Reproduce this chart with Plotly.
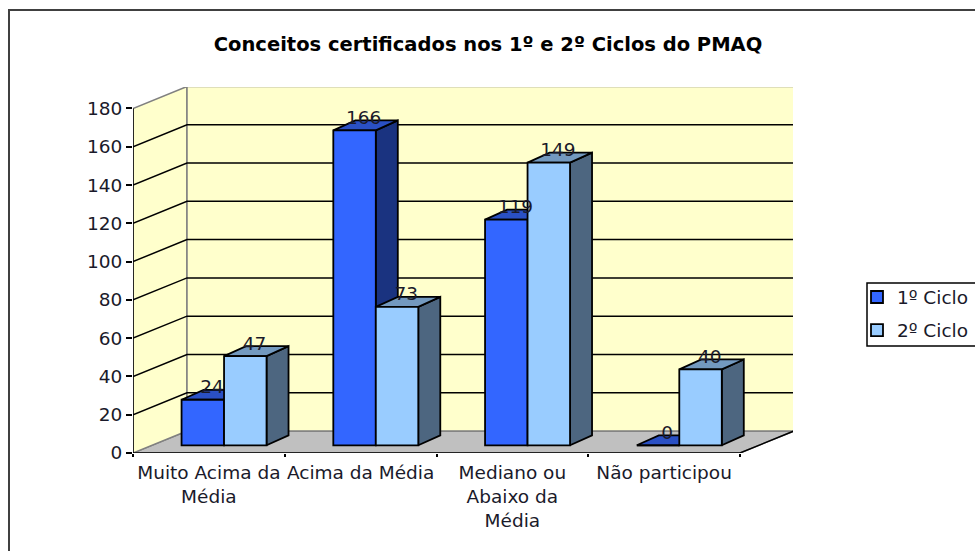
import plotly.graph_objects as go

categories = ["Muito Acima da<br>Média", "Acima da Média", "Mediano ou<br>Abaixo da<br>Média", "Não participou"]
ciclo1 = [24, 166, 119, 0]
ciclo2 = [47, 73, 149, 40]
ticks = [0, 20, 40, 60, 80, 100, 120, 140, 160, 180]
title = "Conceitos certificados nos 1º e 2º Ciclos do PMAQ"

FONT = "DejaVu Sans"
FS = 18.5
TXT = "#1a1a2a"
L, R, T, B = 133, 793, 87, 453
W, H = 975, 551
UNIT_X = 151.75
UNIT_Y = 1.914
BAR_UNIT_Y = 1.897
XMAX = (R - L) / UNIT_X
YMAX = (B - T) / UNIT_Y
BAR_YMAX = (B - T) / BAR_UNIT_Y
WALL_DX, WALL_DY = 54 / UNIT_X, 22 / UNIT_Y
BAR_W = 0.28
GROUP_DX, BASE = 0.1, 4.06
DEPTH_X, DEPTH_Y = 0.145, 5.25
EDGE = 1.8
n = len(categories)


def px(x):
    return (x - L) / (R - L)


def py(y):
    return (B - y) / (B - T)


def poly(x, y, fill, line="#808080", width=1.5, axes=("x", "y")):
    return go.Scatter(x=x, y=y, mode="lines", fill="toself", fillcolor=fill, cliponaxis=False,
                      line=dict(color=line, width=width), hoverinfo="skip", showlegend=False,
                      xaxis=axes[0], yaxis=axes[1])


def seg(x, y, color="#000000", width=1.5):
    return go.Scatter(x=x, y=y, mode="lines", line=dict(color=color, width=width), cliponaxis=False,
                      hoverinfo="skip", showlegend=False)


fig = go.Figure()

# walls and floor
fig.add_trace(poly([0, WALL_DX, n + WALL_DX, n, 0], [0, WALL_DY, WALL_DY, 0, 0], "#C0C0C0"))
fig.add_trace(poly([0, WALL_DX, WALL_DX, 0, 0], [0, WALL_DY, 180 + WALL_DY, 180, 0], "#FFFFCC"))
fig.add_trace(poly([WALL_DX, n + WALL_DX, n + WALL_DX, WALL_DX, WALL_DX],
                   [WALL_DY, WALL_DY, 180 + WALL_DY, 180 + WALL_DY, WALL_DY], "#FFFFCC"))

# gridlines on both walls
for v in ticks[1:-1]:
    fig.add_trace(seg([0, WALL_DX, n + WALL_DX], [v, v + WALL_DY, v + WALL_DY]))

# axis edges
fig.add_trace(seg([0, 0], [0, 180]))
fig.add_trace(seg([0, n, n + WALL_DX], [0, 0, WALL_DY]))


def bar_x(i, s):
    return i + 0.5 + GROUP_DX + (s - 0.5) * BAR_W


def faces(values, s, top_color, side_color):
    sx, sy, tx, ty = [], [], [], []
    for i, v in enumerate(values):
        x1 = bar_x(i, s) + BAR_W / 2
        x0 = x1 - BAR_W
        y1 = BASE + v
        sx += [x1, x1 + DEPTH_X, x1 + DEPTH_X, x1, x1, None]
        sy += [BASE, BASE + DEPTH_Y, y1 + DEPTH_Y, y1, BASE, None]
        tx += [x0, x0 + DEPTH_X, x1 + DEPTH_X, x1, x0, None]
        ty += [y1, y1 + DEPTH_Y, y1 + DEPTH_Y, y1, y1, None]
    fig.add_trace(poly(sx, sy, side_color, "#000000", EDGE, ("x2", "y2")))
    fig.add_trace(poly(tx, ty, top_color, "#000000", EDGE, ("x2", "y2")))


faces(ciclo1, 0, "#2A50C4", "#1A3380")
faces(ciclo2, 1, "#7399BF", "#4D6680")

# front faces on a further overlaid pair of axes, so they hide the first series' sides
for s, (name, vals, col) in enumerate([("1º Ciclo", ciclo1, "#3366FF"), ("2º Ciclo", ciclo2, "#99CCFF")]):
    fig.add_trace(go.Bar(name=name, x=[bar_x(i, s) for i in range(n)], y=vals, base=BASE, width=BAR_W,
                         marker=dict(color=col, line=dict(color="#000000", width=EDGE)),
                         legendgroup=name, xaxis="x3", yaxis="y3"))

# value labels
for s, vals in enumerate([ciclo1, ciclo2]):
    fig.add_trace(go.Scatter(x=[bar_x(i, s) + 0.06 for i in range(n)], y=[BASE + v + 5.8 for v in vals],
                             text=[str(v) for v in vals], mode="text", textposition="middle center",
                             textfont=dict(family=FONT, size=FS, color=TXT), cliponaxis=False,
                             hoverinfo="skip", showlegend=False, xaxis="x3", yaxis="y3"))

shapes = [
    dict(type="rect", xref="paper", yref="paper", x0=px(9), x1=px(W + 20), y0=py(H + 20), y1=py(10),
         line=dict(color="#404040", width=2), layer="below"),
    dict(type="rect", xref="paper", yref="paper", x0=px(867), x1=px(W + 20), y0=py(346), y1=py(283),
         line=dict(color="#000000", width=1.5), layer="above"),
]

fig.update_layout(
    width=W, height=H, paper_bgcolor="#FFFFFF", plot_bgcolor="rgba(0,0,0,0)",
    margin=dict(l=L, r=W - R, t=T, b=H - B, autoexpand=False),
    barmode="overlay",
    title=dict(text="<b>%s</b>" % title, x=488 / W, xanchor="center", y=1 - 44 / H, yanchor="middle",
               xref="container", yref="container", font=dict(family=FONT, size=19.5, color="#000000")),
    font=dict(family=FONT, size=FS, color=TXT),
    xaxis=dict(range=[0, XMAX], tickvals=[i + 0.5 for i in range(n)], ticktext=categories,
               ticks="", showgrid=False, zeroline=False, showline=False, tickangle=0,
               ticklabelstandoff=6, tickfont=dict(family=FONT, size=FS, color=TXT),
               minor=dict(tickvals=list(range(n + 1)), ticks="outside", ticklen=3,
                          tickcolor="#000000", tickwidth=1.5, showgrid=False)),
    yaxis=dict(range=[0, YMAX], tickvals=ticks, ticks="outside", ticklen=6, tickcolor="#000000",
               tickwidth=1.5, showgrid=False, zeroline=False, showline=False,
               tickfont=dict(family=FONT, size=FS, color=TXT)),
    xaxis2=dict(range=[0, XMAX], overlaying="x", visible=False),
    yaxis2=dict(range=[0, BAR_YMAX], overlaying="y", visible=False),
    xaxis3=dict(range=[0, XMAX], overlaying="x", visible=False),
    yaxis3=dict(range=[0, BAR_YMAX], overlaying="y", visible=False),
    legend=dict(x=px(857), xanchor="left", y=py(314), yanchor="middle", xref="paper", yref="paper",
                bgcolor="rgba(0,0,0,0)", borderwidth=0, font=dict(family=FONT, size=FS, color=TXT),
                traceorder="grouped", tracegroupgap=6, itemclick=False, itemdoubleclick=False),
    shapes=shapes,
)

fig.write_html("out.html", config={"displayModeBar": False},
               post_script="document.body.style.margin='0';")
